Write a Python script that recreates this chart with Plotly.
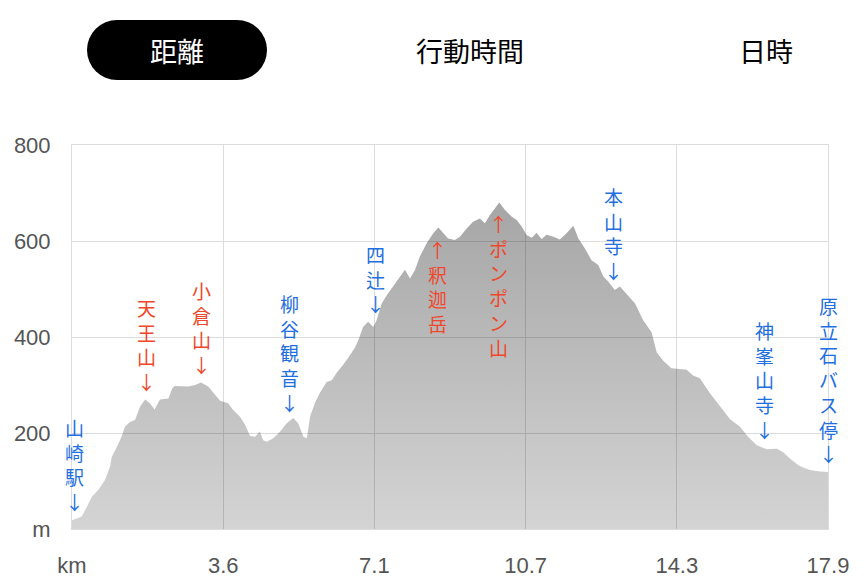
import numpy as np
import plotly.graph_objects as go

# ---- data ----
dist_km = [0.00, 0.23, 0.35, 0.47, 0.62, 0.78, 0.90, 0.94, 1.06, 1.17, 1.25, 1.37, 1.49, 1.61, 1.73,
           1.84, 1.95, 2.08, 2.28, 2.37, 2.43, 2.75, 2.91, 3.05, 3.22, 3.38, 3.50, 3.58, 3.69, 3.81,
           3.97, 4.09, 4.21, 4.33, 4.44, 4.52, 4.60, 4.76, 4.92, 5.07, 5.23, 5.35, 5.47, 5.55, 5.63,
           5.74, 5.86, 6.02, 6.14, 6.26, 6.41, 6.57, 6.69, 6.77, 6.88, 7.00, 7.12, 7.20, 7.32, 7.44,
           7.59, 7.75, 7.87, 7.99, 8.11, 8.22, 8.38, 8.54, 8.66, 8.78, 8.89, 9.05, 9.17, 9.33, 9.48,
           9.64, 9.76, 9.88, 10.00, 10.10, 10.23, 10.39, 10.51, 10.63, 10.75, 10.87, 10.98, 11.10,
           11.22, 11.38, 11.53, 11.69, 11.85, 11.97, 12.12, 12.28, 12.44, 12.56, 12.68, 12.83, 12.95,
           13.11, 13.31, 13.50, 13.70, 13.82, 13.98, 14.17, 14.53, 14.68, 14.84, 15.08, 15.32, 15.55,
           15.79, 15.98, 16.18, 16.42, 16.66, 16.81, 16.97, 17.17, 17.28, 17.44, 17.68, 17.87]
elev_m = [18, 26, 46, 67, 81, 102, 130, 150, 171, 192, 213, 223, 227, 255, 270,
          262, 249, 270, 272, 293, 298, 297, 300, 305, 297, 279, 267, 265, 262, 248,
          234, 217, 194, 192, 203, 185, 182, 189, 203, 220, 231, 220, 192, 189, 235,
          262, 284, 306, 310, 326, 342, 362, 378, 394, 421, 432, 421, 435, 470, 487,
          505, 526, 540, 522, 540, 567, 595, 616, 628, 616, 605, 602, 609, 626, 640,
          647, 637, 654, 668, 680, 665, 651, 644, 630, 612, 607, 617, 604,
          613, 609, 603, 616, 632, 605, 585, 560, 550, 526, 515, 498, 505,
          489, 470, 435, 410, 368, 350, 335, 332, 320, 314, 283, 255, 229,
          213, 192, 175, 166, 167, 160, 147, 133, 128, 123, 120, 119]

x_tick_vals = [0, 3.574, 7.148, 10.722, 14.296, 17.87]
x_tick_text = ["km", "3.6", "7.1", "10.7", "14.3", "17.9"]
y_tick_vals = [0, 200, 400, 600, 800]
y_tick_text = ["m", "200", "400", "600", "800"]

label_names = ["山崎駅", "天王山", "小倉山", "柳谷観音", "四辻", "釈迦岳", "ポンポン山", "本山寺", "神峯山寺", "原立石バス停"]
label_km = [0.05, 1.75, 3.05, 5.15, 7.18, 8.63, 10.09, 12.81, 16.36, 17.87]
label_dir = ["down", "down", "down", "down", "down", "up", "up", "down", "down", "down"]
label_kind = ["place", "peak", "peak", "place", "place", "peak", "peak", "place", "place", "place"]

tabs = ["距離", "行動時間", "日時"]

# ---- layout helpers (page has an 8px body margin) ----
OFF = 8
W, H = 864 - OFF, 580 - OFF
L, T = 72 - OFF, 145 - OFF
PW, PH = 756, 384
R = W - L - PW
B = H - T - PH


def px2x(page_px):
    return (page_px - OFF - L) / PW


def py2y(page_py):
    return (T + PH - (page_py - OFF)) / PH


RED = "#f0472b"
BLUE = "#1f6fe0"

fig = go.Figure()
fig.add_trace(go.Scatter(
    x=dist_km, y=elev_m, mode="lines", line=dict(width=0, color="rgba(0,0,0,0)"),
    fill="tozeroy",
    fillgradient=dict(type="vertical", start=0, stop=680,
                      colorscale=[[0, "rgba(0,0,0,0.17)"], [1, "rgba(0,0,0,0.35)"]]),
    hoverinfo="skip", showlegend=False,
))

annotations = []
for name, km, d, kind in zip(label_names, label_km, label_dir, label_kind):
    col = RED if kind == "peak" else BLUE
    e = float(np.interp(km, dist_km, elev_m))
    chars = list(name)
    if d == "down":
        txt = "<br>".join(chars + ["↓"])
        annotations.append(dict(x=km, y=e, xref="x", yref="y", text=txt, showarrow=False,
                                yanchor="bottom", xanchor="center", yshift=3, align="center",
                                font=dict(family="Noto Sans CJK JP", size=19, color=col)))
    else:
        txt = "<br>".join(["↑"] + chars)
        annotations.append(dict(x=km, y=e, xref="x", yref="y", text=txt, showarrow=False,
                                yanchor="top", xanchor="center", yshift=-5, align="center",
                                font=dict(family="Noto Sans CJK JP", size=19, color=col)))

# tab buttons
tab_cx = [177, 470, 766]
for i, (t, cx) in enumerate(zip(tabs, tab_cx)):
    annotations.append(dict(x=px2x(cx), y=py2y(50), xref="paper", yref="paper", text=t,
                            showarrow=False, xanchor="center", yanchor="middle",
                            font=dict(family="Noto Sans CJK JP", size=27,
                                      color="white" if i == 0 else "black")))

shapes = [
    dict(type="rect", xref="paper", yref="paper", x0=px2x(117), x1=px2x(237), y0=py2y(80), y1=py2y(20),
         fillcolor="black", line=dict(width=0), layer="below"),
    dict(type="circle", xref="paper", yref="paper", x0=px2x(87), x1=px2x(147), y0=py2y(80), y1=py2y(20),
         fillcolor="black", line=dict(width=0), layer="below"),
    dict(type="circle", xref="paper", yref="paper", x0=px2x(207), x1=px2x(267), y0=py2y(80), y1=py2y(20),
         fillcolor="black", line=dict(width=0), layer="below"),
]

axis_font = dict(family="Liberation Sans, Arial, sans-serif", size=22, color="#555555")
fig.update_layout(
    width=W, height=H,
    margin=dict(l=L, r=R, t=T, b=B, pad=0, autoexpand=False),
    paper_bgcolor="white", plot_bgcolor="white",
    showlegend=False,
    annotations=annotations,
    shapes=shapes,
    xaxis=dict(range=[0, 17.87], tickvals=x_tick_vals, ticktext=x_tick_text,
               showgrid=True, gridcolor="#dcdcdc", gridwidth=1, zeroline=False,
               showline=True, linecolor="#dcdcdc", linewidth=1, mirror=True, automargin=False,
               ticks="", tickfont=axis_font, ticklabelstandoff=17, fixedrange=True),
    yaxis=dict(range=[0, 800], tickvals=y_tick_vals, ticktext=y_tick_text,
               showgrid=True, gridcolor="#dcdcdc", gridwidth=1, zeroline=False,
               showline=True, linecolor="#dcdcdc", linewidth=1, mirror=True, automargin=False,
               ticks="", tickfont=axis_font, ticklabelstandoff=16, fixedrange=True),
)

fig.write_html("out.html")
